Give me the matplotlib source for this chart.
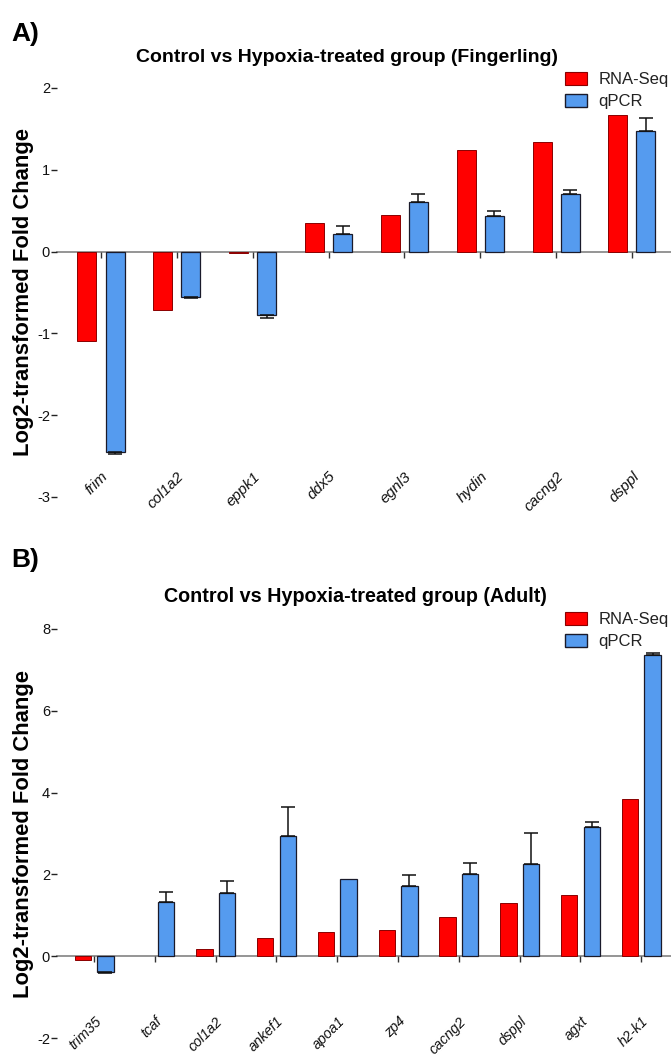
import numpy as np
import matplotlib.pyplot as plt
from matplotlib.patches import Patch
import matplotlib.transforms as mtransforms

plt.rcParams['font.family'] = ['Liberation Sans', 'DejaVu Sans']

# Panel A: fingerling
genes_a = ["frim", "col1a2", "eppk1", "ddx5", "egnl3", "hydin", "cacng2", "dsppl"]
rnaseq_a = [-1.09, -0.72, -0.02, 0.35, 0.45, 1.24, 1.34, 1.67]
qpcr_a = [-2.45, -0.55, -0.78, 0.21, 0.61, 0.44, 0.70, 1.48]
qpcr_err_a = [0.03, 0.02, 0.03, 0.10, 0.09, 0.06, 0.05, 0.15]

# Panel B: adult
genes_b = ["trim35", "tcaf", "col1a2", "ankef1", "apoa1", "zp4", "cacng2", "dsppl", "agxt", "h2-k1"]
rnaseq_b = [-0.10, 0.0, 0.17, 0.45, 0.59, 0.65, 0.96, 1.30, 1.50, 3.84]
qpcr_b = [-0.38, 1.32, 1.55, 2.93, 1.89, 1.71, 2.02, 2.26, 3.15, 7.36]
qpcr_err_b = [0.02, 0.25, 0.30, 0.73, 0.0, 0.27, 0.27, 0.76, 0.13, 0.06]

RED = "#ff0000"
BLUE = "#559bef"
W, H = 671, 1057


def draw_panel(ax, genes, rna, qpcr, err, width, offset, xlim, ylim, yticks, lab_y, lab_size):
    x = np.arange(len(genes))
    rna = np.array(rna)
    qpcr = np.array(qpcr)
    err = np.array(err)
    nz = rna != 0
    ax.bar((x - offset)[nz], rna[nz], width, color=RED, edgecolor="#8a0000", linewidth=0.7, zorder=2)
    ax.bar(x + offset, qpcr, width, color=BLUE, edgecolor="#1a1a2a", linewidth=0.9, zorder=2)
    lower = np.where(qpcr < 0, err, 0)
    upper = np.where(qpcr >= 0, err, 0)
    m = err > 0
    ax.errorbar((x + offset)[m], qpcr[m], yerr=[lower[m], upper[m]], fmt="none",
                ecolor="#111111", elinewidth=1.1, capsize=5, capthick=1.1, zorder=3)

    ax.set_xlim(*xlim)
    ax.set_ylim(*ylim)
    ax.set_yticks(yticks)
    ax.set_yticklabels([str(t) for t in yticks])
    for s in ["top", "right", "left"]:
        ax.spines[s].set_visible(False)
    ax.spines["bottom"].set_position(("data", 0))
    ax.spines["bottom"].set_color("#8c8c8c")
    ax.spines["bottom"].set_linewidth(1.3)
    ax.spines["bottom"].set_zorder(1)
    ax.set_xticks(x)
    ax.tick_params(axis="x", direction="out", length=4, width=1, color="#333333",
                   labelbottom=False)
    ax.tick_params(axis="y", length=4, width=1, color="#222222", pad=1,
                   labelsize=10.5, labelcolor="#111111")

    trans = mtransforms.blended_transform_factory(ax.transData, ax.transAxes)
    for xi, g in zip(x, genes):
        ax.text(xi, lab_y, g, transform=trans, rotation=45, ha="right", va="top",
                rotation_mode="anchor", fontsize=lab_size, style="italic", color="#111111")

    ax.set_ylabel("Log2-transformed Fold Change", fontsize=15.8, fontweight="bold")
    ax.yaxis.set_label_coords(-0.036, 0.5)


fig = plt.figure(figsize=(W / 100, H / 100), dpi=100)

# panel A axes: left at 57 px, y=-3 at 497 px, y=2 at 88 px
ax_a = fig.add_axes([57 / W, (H - 497) / H, 625 / W, 409 / H])
draw_panel(ax_a, genes_a, rnaseq_a, qpcr_a, qpcr_err_a, 0.25, 0.185,
           (-0.58, 7.66), (-3, 2), [-3, -2, -1, 0, 1, 2], 0.068, 11)

# panel B axes: y=-2 at 1038 px, y=8 at 629 px
ax_b = fig.add_axes([57 / W, (H - 1038) / H, 625 / W, 409 / H])
draw_panel(ax_b, genes_b, rnaseq_b, qpcr_b, qpcr_err_b, 0.27, 0.185,
           (-0.61, 9.67), (-2, 8), [-2, 0, 2, 4, 6, 8], 0.058, 10.3)

fig.text(11 / W, 1 - 34 / H, "A)", fontsize=19, fontweight="bold", va="center")
fig.text(11 / W, 1 - 560 / H, "B)", fontsize=19, fontweight="bold", va="center")
fig.text(347 / W, 1 - 57 / H, "Control vs Hypoxia-treated group (Fingerling)",
         fontsize=14, fontweight="bold", ha="center", va="center")
fig.text(355 / W, 1 - 597 / H, "Control vs Hypoxia-treated group (Adult)",
         fontsize=14.2, fontweight="bold", ha="center", va="center")

handles = [Patch(facecolor=RED, edgecolor="#8a0000", linewidth=0.8, label="RNA-Seq"),
           Patch(facecolor=BLUE, edgecolor="#1a1a2a", linewidth=1.0, label="qPCR")]
for ax, top in [(ax_a, 72), (ax_b, 612)]:
    ax.legend(handles=handles, loc="upper left", bbox_to_anchor=(565 / W, 1 - top / H),
              bbox_transform=fig.transFigure, frameon=False, borderpad=0,
              borderaxespad=0, handlelength=1.3, handleheight=0.8, handletextpad=0.7,
              labelspacing=0.4, fontsize=12, labelcolor="#222222")

fig.savefig("out.png", dpi=100)
